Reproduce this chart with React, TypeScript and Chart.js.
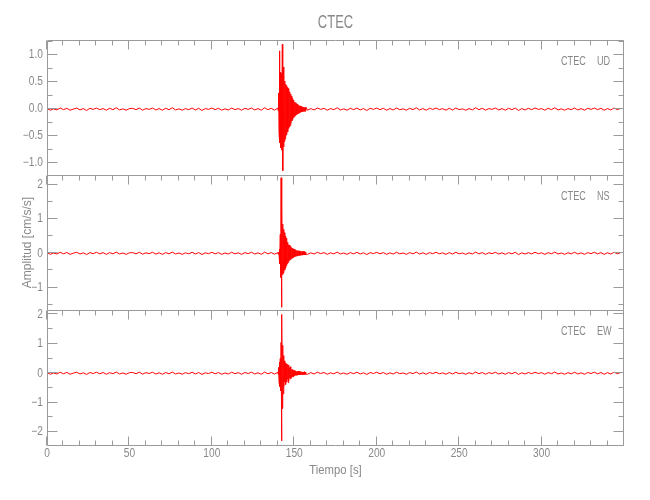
import React, { useEffect, useRef } from "react";
import { Chart, registerables } from "chart.js";

Chart.register(...registerables);

// ---------- text ----------
const TITLE = "CTEC";
const X_TITLE = "Tiempo [s]";
const Y_TITLE = "Amplitud [cm/s/s]";
const STATION = "CTEC";
const COMPONENTS = ["UD", "NS", "EW"];

// ---------- axes ----------
const X_MIN = 0;
const X_MAX = 350;
const X_MAJOR = [0, 50, 100, 150, 200, 250, 300];
const X_TICK_LABELS = ["0", "50", "100", "150", "200", "250", "300"];
const X_MINOR_STEP = 10;

const Y_RANGES = [
  [-1.22, 1.28],
  [-1.65, 2.28],
  [-2.44, 2.15],
];
const Y_MAJOR = [
  [1, 0.5, 0, -0.5, -1],
  [2, 1, 0, -1],
  [2, 1, 0, -1, -2],
];
const Y_TICK_LABELS = [
  ["1.0", "0.5", "0.0", "\u22120.5", "\u22121.0"],
  ["2", "1", "0", "\u22121"],
  ["2", "1", "0", "\u22121", "\u22122"],
];
const Y_MINOR_STEP = [0.25, 0.5, 0.5];

// ---------- sampling ----------
const QUIET_DT = 2;
const PRE_T0 = 0;
const POST_T0 = 158;
const BURST_T0 = 140;
const BURST_DT = 0.25;

// ---------- data: UD ----------
const udPre = [
  0.01, -0.02, 0.005, -0.015, 0.02, -0.01, 0.015, -0.02, 0.0, 0.02,
  -0.015, 0.01, -0.025, 0.015, -0.005, 0.02, -0.01, 0.01, -0.02, 0.015,
  -0.01, 0.025, -0.015, 0.005, -0.02, 0.01, 0.015, -0.01, 0.02, -0.02,
  0.01, -0.005, 0.02, -0.015, 0.01, -0.02, 0.015, -0.01, 0.025, -0.015,
  0.005, -0.02, 0.01, -0.01, 0.02, -0.015, 0.015, -0.025, 0.01, -0.005,
  0.02, -0.01, 0.015, -0.02, 0.005, -0.015, 0.02, -0.01, 0.01, -0.02,
  0.015, -0.005, 0.02, -0.015, 0.01, -0.02, 0.025, -0.01, 0.015, -0.02];
const udBurst = [
  0.02, -0.03, 0.3, -0.45, 1.08, -0.62, 0.68, -0.72, 0.66, -0.76,
  -0.5, 1.2, -1.14, 0.78, -0.7, 0.64, -0.6, 0.52, -0.55, 0.46,
  -0.48, 0.44, -0.46, 0.4, -0.42, 0.38, -0.36, 0.35, -0.33, 0.32,
  -0.3, 0.28, -0.26, 0.24, -0.22, 0.2, -0.19, 0.17, -0.16, 0.15,
  -0.14, 0.13, -0.12, 0.12, -0.11, 0.1, -0.1, 0.09, -0.09, 0.08,
  -0.08, 0.07, -0.07, 0.06, -0.06, 0.06, -0.05, 0.05, -0.05, 0.04,
  -0.05, 0.04, -0.04, 0.04, -0.04, 0.03, -0.04, 0.03, -0.03, 0.03];
const udPost = [
  -0.02, 0.01, -0.015, 0.02, -0.005, 0.015, -0.02, 0.01, -0.01, 0.025,
  -0.015, 0.005, -0.02, 0.015, -0.01, 0.02, -0.015, 0.01, -0.025, 0.015,
  -0.005, 0.02, -0.01, 0.015, -0.02, 0.01, -0.015, 0.02, -0.01, 0.005,
  -0.02, 0.015, -0.01, 0.025, -0.015, 0.01, -0.02, 0.015, -0.005, 0.02,
  -0.01, 0.01, -0.02, 0.015, -0.015, 0.02, -0.01, 0.005, -0.02, 0.01,
  -0.015, 0.025, -0.01, 0.015, -0.02, 0.01, -0.005, 0.02, -0.015, 0.01,
  -0.02, 0.015, -0.01, 0.02, -0.025, 0.01, -0.015, 0.015, -0.01, 0.02,
  -0.005, 0.01, -0.02, 0.015, -0.01, 0.025, -0.015, 0.005, -0.02, 0.01,
  -0.01, 0.02, -0.015, 0.01, -0.02, 0.015, -0.005, 0.02, -0.01, 0.015,
  -0.02, 0.01, -0.015, 0.02, -0.01, 0.015];

// ---------- data: NS ----------
const nsPre = [
  0.02, -0.03, 0.01, -0.02, 0.03, -0.015, 0.025, -0.03, 0.005, 0.03,
  -0.02, 0.015, -0.035, 0.02, -0.01, 0.03, -0.015, 0.02, -0.03, 0.02,
  -0.015, 0.035, -0.02, 0.01, -0.03, 0.015, 0.02, -0.015, 0.03, -0.025,
  0.015, -0.01, 0.03, -0.02, 0.015, -0.03, 0.02, -0.015, 0.035, -0.02,
  0.01, -0.03, 0.015, -0.015, 0.03, -0.02, 0.02, -0.035, 0.015, -0.01,
  0.03, -0.015, 0.02, -0.03, 0.01, -0.02, 0.03, -0.015, 0.015, -0.03,
  0.02, -0.01, 0.03, -0.02, 0.015, -0.03, 0.035, -0.015, 0.02, -0.025];
const nsBurst = [
  0.02, -0.03, 0.03, -0.04, 0.12, -0.3, 0.55, -0.7, 2.2, -1.57,
  1.35, -0.62, 0.85, -0.58, 0.7, -0.52, 0.6, -0.48, 0.5, -0.42,
  0.44, -0.36, 0.38, -0.3, 0.32, -0.26, 0.25, -0.22, 0.24, -0.2,
  0.2, -0.18, 0.19, -0.15, 0.16, -0.14, 0.15, -0.12, 0.13, -0.11,
  0.12, -0.1, 0.1, -0.09, 0.09, -0.08, 0.08, -0.07, 0.08, -0.07,
  0.07, -0.06, 0.07, -0.06, 0.06, -0.06, 0.06, -0.05, 0.05, -0.05,
  0.06, -0.05, 0.05, -0.04, 0.05, -0.04, 0.04, -0.05, 0.04, -0.04];
const nsPost = [
  -0.03, 0.015, -0.02, 0.03, -0.01, 0.02, -0.03, 0.015, -0.015, 0.035,
  -0.02, 0.01, -0.03, 0.02, -0.015, 0.03, -0.02, 0.015, -0.035, 0.02,
  -0.01, 0.03, -0.015, 0.02, -0.03, 0.015, -0.02, 0.03, -0.015, 0.01,
  -0.03, 0.02, -0.015, 0.035, -0.02, 0.015, -0.03, 0.02, -0.01, 0.03,
  -0.015, 0.015, -0.03, 0.02, -0.02, 0.03, -0.015, 0.01, -0.03, 0.015,
  -0.02, 0.035, -0.015, 0.02, -0.03, 0.015, -0.01, 0.03, -0.02, 0.015,
  -0.03, 0.02, -0.015, 0.03, -0.035, 0.015, -0.02, 0.02, -0.015, 0.03,
  -0.01, 0.015, -0.03, 0.02, -0.015, 0.035, -0.02, 0.01, -0.03, 0.015,
  -0.015, 0.03, -0.02, 0.015, -0.03, 0.02, -0.01, 0.03, -0.015, 0.02,
  -0.03, 0.015, -0.02, 0.03, -0.015, 0.02];

// ---------- data: EW ----------
const ewPre = [
  0.025, -0.035, 0.01, -0.025, 0.035, -0.02, 0.03, -0.035, 0.005, 0.035,
  -0.025, 0.015, -0.04, 0.025, -0.01, 0.035, -0.02, 0.025, -0.035, 0.02,
  -0.015, 0.04, -0.025, 0.01, -0.035, 0.02, 0.025, -0.015, 0.035, -0.03,
  0.02, -0.01, 0.035, -0.025, 0.015, -0.035, 0.025, -0.02, 0.04, -0.025,
  0.01, -0.035, 0.02, -0.015, 0.035, -0.025, 0.025, -0.04, 0.015, -0.01,
  0.035, -0.02, 0.025, -0.035, 0.01, -0.025, 0.035, -0.015, 0.02, -0.035,
  0.025, -0.01, 0.035, -0.025, 0.015, -0.035, 0.04, -0.02, 0.025, -0.03];
const ewBurst = [
  0.03, -0.04, 0.2, -0.3, 0.38, -0.45, 0.5, -0.6, 1.05, -2.3,
  2.0, -1.2, 0.95, -0.7, 0.6, -0.45, 0.42, -0.3, 0.35, -0.38,
  0.32, -0.3, 0.22, -0.2, 0.3, -0.32, 0.28, -0.25, 0.18, -0.16,
  0.22, -0.2, 0.18, -0.15, 0.12, -0.11, 0.13, -0.12, 0.1, -0.1,
  0.09, -0.08, 0.08, -0.07, 0.08, -0.07, 0.06, -0.06, 0.07, -0.06,
  0.06, -0.05, 0.06, -0.05, 0.05, -0.05, 0.05, -0.04, 0.05, -0.04,
  0.04, -0.05, 0.04, -0.04, 0.05, -0.04, 0.04, -0.04, 0.04, -0.04];
const ewPost = [
  -0.035, 0.02, -0.025, 0.035, -0.01, 0.025, -0.035, 0.015, -0.02, 0.04,
  -0.025, 0.01, -0.035, 0.025, -0.015, 0.035, -0.025, 0.015, -0.04, 0.025,
  -0.01, 0.035, -0.02, 0.025, -0.035, 0.015, -0.025, 0.035, -0.015, 0.01,
  -0.035, 0.025, -0.015, 0.04, -0.025, 0.015, -0.035, 0.025, -0.01, 0.035,
  -0.02, 0.015, -0.035, 0.025, -0.025, 0.035, -0.015, 0.01, -0.035, 0.02,
  -0.025, 0.04, -0.015, 0.025, -0.035, 0.02, -0.01, 0.035, -0.025, 0.015,
  -0.035, 0.025, -0.02, 0.035, -0.04, 0.015, -0.025, 0.025, -0.015, 0.035,
  -0.01, 0.02, -0.035, 0.025, -0.015, 0.04, -0.025, 0.01, -0.035, 0.02,
  -0.02, 0.035, -0.025, 0.015, -0.035, 0.025, -0.01, 0.035, -0.02, 0.025,
  -0.035, 0.02, -0.025, 0.035, -0.015, 0.025];

const SERIES = [
  [udPre, udBurst, udPost],
  [nsPre, nsBurst, nsPost],
  [ewPre, ewBurst, ewPost],
];

// ---------- layout / style ----------
const W = 650;
const H = 500;
const PLOT_LEFT = 47;
const PLOT_RIGHT = 624;
const PANEL_TOP = 40;
const PANEL_H = 135;
const AXIS_COLOR = "#9a9a9a";
const TEXT_COLOR = "#888888";
const TRACE_COLOR = "#ff0000";
const FONT = '"Liberation Sans", "DejaVu Sans", Arial, sans-serif';

function buildPoints(pre: number[], burst: number[], post: number[]) {
  const pts: { x: number; y: number }[] = [];
  pre.forEach((v, i) => pts.push({ x: PRE_T0 + i * QUIET_DT, y: v }));
  burst.forEach((v, i) => pts.push({ x: BURST_T0 + i * BURST_DT, y: v }));
  post.forEach((v, i) => pts.push({ x: POST_T0 + i * QUIET_DT, y: v }));
  pts.sort((a, b) => a.x - b.x);
  return pts;
}

function crisp(v: number) {
  return Math.floor(v) + 0.5;
}

function drawText(
  ctx: CanvasRenderingContext2D,
  text: string,
  x: number,
  y: number,
  size: number,
  align: CanvasTextAlign,
  sx: number,
  rot = 0
) {
  ctx.save();
  ctx.translate(x, y);
  if (rot) ctx.rotate(rot);
  ctx.scale(sx, 1);
  ctx.font = `${size}px ${FONT}`;
  ctx.fillStyle = TEXT_COLOR;
  ctx.textAlign = align;
  ctx.textBaseline = "middle";
  ctx.fillText(text, 0, 0);
  ctx.restore();
}

function makePanelPlugin(idx: number) {
  return {
    id: "panelFrame" + idx,
    afterDraw(chart: any) {
      const ctx: CanvasRenderingContext2D = chart.ctx;
      const a = chart.chartArea;
      const xs = chart.scales.x;
      const ys = chart.scales.y;
      const L = crisp(a.left);
      const R = crisp(a.right - 0.5);
      const T = crisp(a.top);
      const B = crisp(a.bottom);
      const [ymin, ymax] = Y_RANGES[idx];

      ctx.save();
      ctx.strokeStyle = AXIS_COLOR;
      ctx.lineWidth = 1;
      ctx.beginPath();
      ctx.rect(L, T, R - L, B - T);
      const step = Y_MINOR_STEP[idx];
      const k0 = Math.ceil(ymin / step - 1e-9);
      const k1 = Math.floor(ymax / step + 1e-9);
      for (let k = k0; k <= k1; k++) {
        const py = crisp(ys.getPixelForValue(k * step) - 0.5);
        ctx.moveTo(L, py);
        ctx.lineTo(L + 5, py);
        ctx.moveTo(R, py);
        ctx.lineTo(R - 5, py);
      }
      Y_MAJOR[idx].forEach((v) => {
        const py = crisp(ys.getPixelForValue(v) - 0.5);
        ctx.moveTo(L, py);
        ctx.lineTo(L + 10, py);
        ctx.moveTo(R, py);
        ctx.lineTo(R - 10, py);
      });
      const n = Math.floor((X_MAX - X_MIN) / X_MINOR_STEP + 1e-9);
      for (let i = 0; i <= n; i++) {
        const v = X_MIN + i * X_MINOR_STEP;
        const len = X_MAJOR.includes(v) ? 9 : 5;
        const px = crisp(xs.getPixelForValue(v) - 0.5);
        ctx.moveTo(px, T);
        ctx.lineTo(px, T + len);
        if (idx === 2) {
          ctx.moveTo(px, B);
          ctx.lineTo(px, B - len);
        }
      }
      ctx.stroke();
      ctx.restore();

      Y_MAJOR[idx].forEach((v, j) => {
        const py = ys.getPixelForValue(v);
        drawText(ctx, Y_TICK_LABELS[idx][j], a.left - 4, py, 12, "right", 0.85);
      });

      drawText(ctx, STATION, 561, a.top + 21, 13, "left", 0.7);
      drawText(ctx, COMPONENTS[idx], 597, a.top + 21, 13, "left", 0.7);

      if (idx === 0) {
        drawText(ctx, TITLE, (a.left + a.right) / 2, 23, 18, "center", 0.72);
      }
      if (idx === 1) {
        const cy = PANEL_TOP + (PANEL_H * 3) / 2;
        drawText(ctx, Y_TITLE, 28, cy, 12, "center", 1.0, -Math.PI / 2);
      }
      if (idx === 2) {
        X_MAJOR.forEach((v, j) => {
          const px = xs.getPixelForValue(v);
          drawText(ctx, X_TICK_LABELS[j], px, a.bottom + 9, 12, "center", 0.85);
        });
        drawText(ctx, X_TITLE, (a.left + a.right) / 2, 470, 13, "center", 0.87);
      }
    },
  };
}

export default function App() {
  const r0 = useRef<HTMLCanvasElement>(null);
  const r1 = useRef<HTMLCanvasElement>(null);
  const r2 = useRef<HTMLCanvasElement>(null);

  useEffect(() => {
    const refs = [r0, r1, r2];
    const charts = refs.map((ref, idx) => {
      const [pre, burst, post] = SERIES[idx];
      const top = PANEL_TOP + idx * PANEL_H;
      const bottom = top + PANEL_H;
      return new Chart(ref.current as HTMLCanvasElement, {
        type: "line",
        data: {
          datasets: [
            {
              label: COMPONENTS[idx],
              data: buildPoints(pre, burst, post),
              borderColor: TRACE_COLOR,
              borderWidth: 1,
              borderJoinStyle: "round",
              pointRadius: 0,
              tension: 0,
              fill: false,
            },
          ],
        },
        options: {
          responsive: false,
          animation: false,
          devicePixelRatio: 1,
          events: [],
          layout: {
            padding: {
              left: PLOT_LEFT,
              right: W - PLOT_RIGHT,
              top: top,
              bottom: H - bottom,
            },
          },
          scales: {
            x: { type: "linear", min: X_MIN, max: X_MAX, display: false },
            y: { type: "linear", min: Y_RANGES[idx][0], max: Y_RANGES[idx][1], display: false },
          },
          plugins: {
            legend: { display: false },
            tooltip: { enabled: false },
            title: { display: false },
          },
        },
        plugins: [makePanelPlugin(idx)],
      } as any);
    });
    return () => charts.forEach((c) => c.destroy());
  }, []);

  const cs: React.CSSProperties = { position: "absolute", left: 0, top: 0 };
  return (
    <div style={{ position: "fixed", left: 0, top: 0, width: W, height: H, background: "#fff" }}>
      <canvas ref={r0} width={W} height={H} style={cs} />
      <canvas ref={r1} width={W} height={H} style={cs} />
      <canvas ref={r2} width={W} height={H} style={cs} />
    </div>
  );
}
